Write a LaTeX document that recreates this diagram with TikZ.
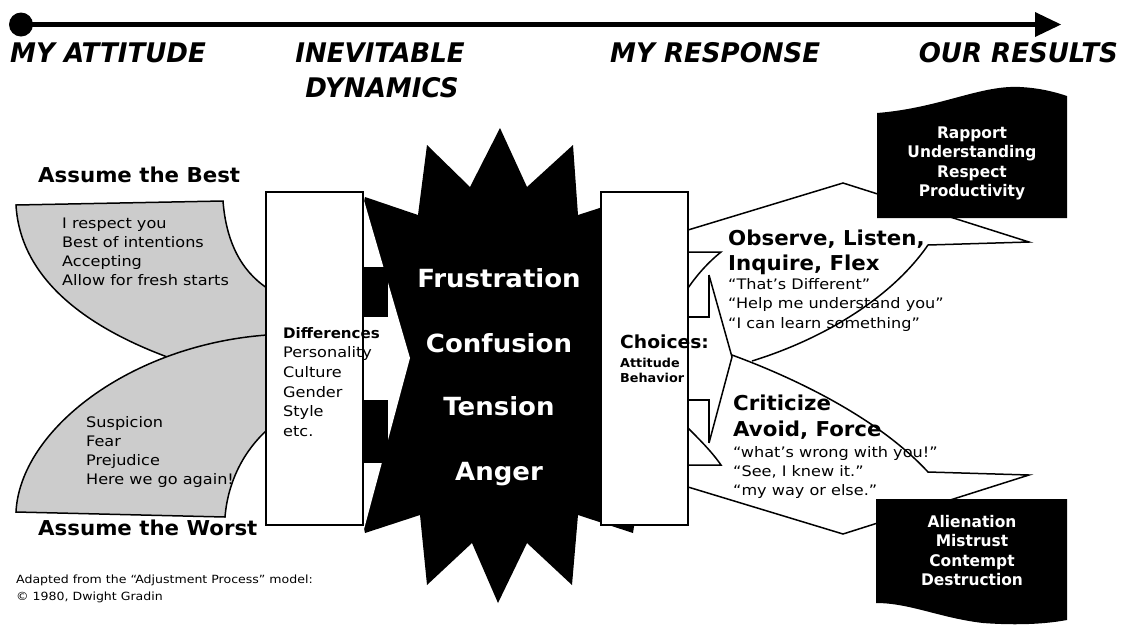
\documentclass[tikz,border=0pt]{standalone}
\usepackage{fontspec}
\setmainfont{DejaVu Sans}[FakeStretch=1.11]
\newfontfamily\bfam{DejaVu Sans}[FakeStretch=1.04]
\newfontfamily\hfam{DejaVu Sans}[FakeStretch=0.965]
\newcommand\lstack[2]{\vtop{\baselineskip=#1\lineskiplimit=-50pt\relax\halign{##\hfil\cr#2\crcr}}}
\newcommand\cstack[2]{\vtop{\baselineskip=#1\lineskiplimit=-50pt\relax\halign{\hfil##\hfil\cr#2\crcr}}}
\definecolor{shade}{RGB}{204,204,204}
\begin{document}
\begin{tikzpicture}[x=1pt,y=-1pt,line join=miter,
  hdr/.style={inner sep=0pt,font=\hfam\fontsize{27}{32}\selectfont\bfseries\itshape},
  txt/.style={inner sep=0pt,anchor=base west,font=\fontsize{14.5}{19}\selectfont},
  btxt/.style={inner sep=0pt,anchor=base west,font=\bfam\fontsize{20.5}{24}\selectfont\bfseries},
  startxt/.style={inner sep=0pt,anchor=base,text=white,font=\bfam\fontsize{25}{30}\selectfont\bfseries},
  restxt/.style={inner sep=0pt,anchor=base,text=white,font=\hfam\fontsize{16}{19}\selectfont\bfseries},
  outline/.style={line width=1.5pt},
  boxst/.style={line width=1.7pt,draw=black,fill=white},
  greyst/.style={line width=1.5pt,draw=black,fill=shade}]
\useasboundingbox (0,0) rectangle (1128,625);
\fill[white] (0,0) rectangle (1128,625);

% timeline arrow
\coordinate (tstart) at (21,24.5);
\coordinate (tend) at (1036,24.5);
\fill (tstart) circle (12);
\draw[line width=4.5pt] (tstart) -- (tend);
\fill (1035,12) -- (1061,24.5) -- (1035,37) -- cycle;

% headers
\node[hdr,anchor=base west] (h1) at (10,62) {MY ATTITUDE};
\node[hdr,anchor=base] (h2) at (380,62) {INEVITABLE};
\node[hdr,anchor=base] (h2b) at (382,97) {DYNAMICS};
\node[hdr,anchor=base west] (h3) at (610,62) {MY RESPONSE};
\node[hdr,anchor=base east] (h4) at (1118,62) {OUR RESULTS};

% starburst
\fill (365,197) -- (418,215) -- (427,145) -- (470,187) -- (500,128) -- (527,187)
  -- (573,145) -- (578,215) -- (640,195) -- (660,360) -- (633,533) -- (578,515)
  -- (572,585) -- (527,543) -- (498,603) -- (472,543) -- (427,585) -- (420,515)
  -- (365,533) -- (330,365) -- cycle;
% left arrow head
\fill[white] (363,197) -- (410,358) -- (363,533) -- cycle;
\fill (363,267) rectangle (388,317);
\fill (363,400) rectangle (388,463);

% grey shapes
\filldraw[greyst] (16,205) -- (223,201) .. controls (226,240) and (240,270) .. (267,288)
  -- (267,380) -- (170,358) .. controls (80,325) and (20,275) .. (16,205) -- cycle;
\filldraw[greyst] (16,512) .. controls (20,430) and (130,345) .. (267,335) -- (267,430)
  .. controls (245,450) and (228,480) .. (225,517) -- cycle;

% differences box
\draw[boxst] (266,192) rectangle (363,525);

% callouts
\fill[white] (680,232) -- (688,230) -- (843,183) -- (1029,242) -- (928,245)
  .. controls (890,300) and (820,340) .. (752,361) -- (732,357) -- (680,357) -- cycle;
\draw[outline] (688,230) -- (843,183) -- (1029,242) -- (928,245)
  .. controls (890,300) and (820,340) .. (752,361);
\fill[white] (680,487) -- (688,487) -- (843,534) -- (1029,475) -- (928,472)
  .. controls (880,420) and (800,380) .. (732,355) -- (680,355) -- cycle;
\draw[outline] (732,355) .. controls (800,380) and (880,420) .. (928,472)
  -- (1029,475) -- (843,534) -- (688,487);

% choices box
\draw[boxst] (601,192) rectangle (688,525);
\draw[outline] (688,252) -- (721,252) .. controls (705,265) and (695,278) .. (688,288);
\draw[outline] (709,275) -- (709,317) -- (688,317);
\draw[outline] (709,275) -- (732,357) -- (709,443);
\draw[outline] (688,400) -- (709,400) -- (709,443);
\draw[outline] (688,428) .. controls (700,440) and (712,452) .. (721,465) -- (688,465);

% result boxes
\fill (877,113) .. controls (940,108) and (980,85) .. (1020,87)
  .. controls (1040,88) and (1055,92) .. (1067,96) -- (1067,218) -- (877,218) -- cycle;
\fill (876,499) -- (1067,499) -- (1067,620) .. controls (1040,625) and (1010,625) .. (983,623)
  .. controls (940,618) and (910,603) .. (876,603) -- cycle;

% texts left
\node[btxt] (best) at (38,182) {Assume the Best};
\node[btxt] (worst) at (38,535) {Assume the Worst};
\node[txt] (bestlist) at (62,228) {\lstack{19.2pt}{I respect you\cr Best of intentions\cr Accepting\cr Allow for fresh starts}};
\node[txt] (worstlist) at (86,427) {\lstack{19.2pt}{Suspicion\cr Fear\cr Prejudice\cr Here we go again!}};
\node[txt] (diff) at (283,338) {\lstack{19.7pt}{{\bfam\bfseries Differences}\cr Personality\cr Culture\cr Gender\cr Style\cr etc.}};
\node[inner sep=0pt,anchor=base west,font=\fontsize{11.3}{17}\selectfont] (credit) at (16,583)
  {\lstack{17pt}{Adapted from the “Adjustment Process” model:\cr © 1980, Dwight Gradin}};

% starburst texts
\node[startxt] (s1) at (499,287) {Frustration};
\node[startxt] (s2) at (499,352) {Confusion};
\node[startxt] (s3) at (499,415) {Tension};
\node[startxt] (s4) at (499,480) {Anger};

% choices text
\node[inner sep=0pt,anchor=base west,font=\bfam\fontsize{18}{22}\selectfont\bfseries] (ch) at (620,348) {Choices:};
\node[inner sep=0pt,anchor=base west,font=\bfam\fontsize{12.3}{15}\selectfont\bfseries] (chsub) at (620,367)
  {\lstack{15.5pt}{Attitude\cr Behavior}};

% response texts
\node[btxt] (obs) at (728,245) {\lstack{25pt}{Observe, Listen,\cr Inquire, Flex}};
\node[txt] (obsq) at (728,289) {\lstack{19.5pt}{“That’s Different”\cr “Help me understand you”\cr “I can learn something”}};
\node[btxt] (crit) at (733,410) {\lstack{26pt}{Criticize\cr Avoid, Force}};
\node[txt] (critq) at (733,457) {\lstack{19pt}{“what’s wrong with you!”\cr “See, I knew it.”\cr “my way or else.”}};

% results texts
\node[restxt] (good) at (972,138) {\cstack{19.5pt}{Rapport\cr Understanding\cr Respect\cr Productivity}};
\node[restxt] (bad) at (972,527) {\cstack{19.5pt}{Alienation\cr Mistrust\cr Contempt\cr Destruction}};
\end{tikzpicture}
\end{document}
